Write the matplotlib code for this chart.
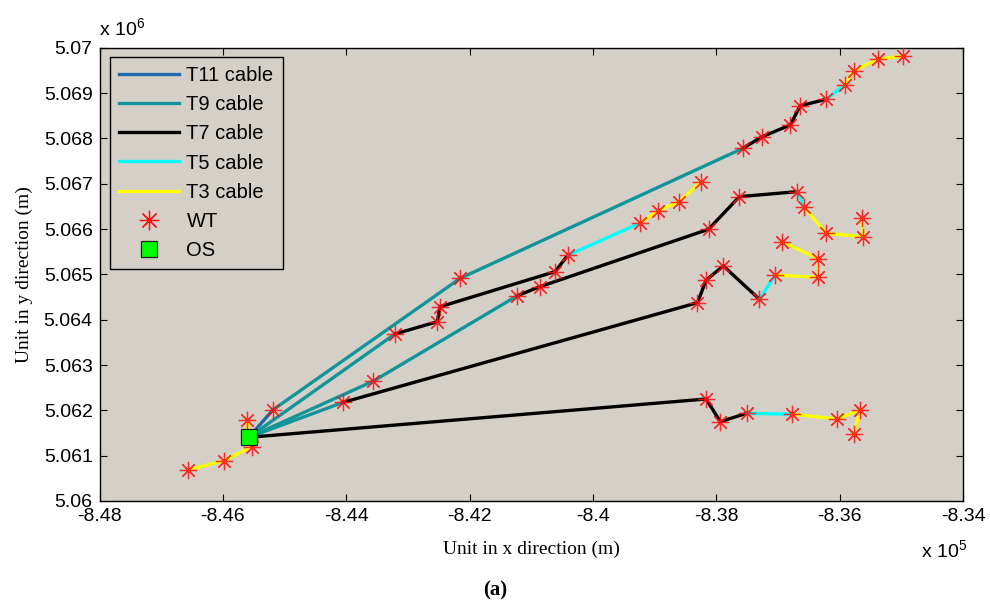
import matplotlib
matplotlib.use('Agg')
import matplotlib.pyplot as plt
from matplotlib.lines import Line2D
from matplotlib.ticker import FuncFormatter, MultipleLocator

# offshore substation (m)
os_x = -845580
os_y = 5061405

# turbine strings, ordered outward from the substation
# cable type of each segment: first entry is substation -> first turbine
a_x = [-845190, -842150, -837570, -837260, -836800, -836640, -836220, -835920, -835775, -835385, -834975]
a_y = [5062010, 5064915, 5067780, 5068035, 5068295, 5068720, 5068860, 5069175, 5069495, 5069745, 5069815]
a_cable = ['T11', 'T9', 'T9', 'T7', 'T7', 'T7', 'T7', 'T5', 'T3', 'T3', 'T3']

b_x = [-843210, -842525, -842480, -840615, -840405, -839245, -838940, -838600, -838250]
b_y = [5063685, 5063955, 5064285, 5065060, 5065425, 5066125, 5066405, 5066605, 5067045]
b_cable = ['T9', 'T7', 'T7', 'T7', 'T7', 'T5', 'T3', 'T3', 'T3']

c_x = [-843560, -841225, -840855, -838125, -837625, -836685, -836575, -836220, -835620, -835640]
c_y = [5062645, 5064530, 5064730, 5065995, 5066715, 5066825, 5066480, 5065905, 5065830, 5066235]
c_cable = ['T9', 'T9', 'T7', 'T7', 'T7', 'T7', 'T5', 'T3', 'T3', 'T3']

d_x = [-844055, -838305, -838165, -837885, -837300, -837045, -836345, -836345, -836935]
d_y = [5062175, 5064375, 5064875, 5065185, 5064450, 5064985, 5064935, 5065345, 5065720]
d_cable = ['T9', 'T7', 'T7', 'T7', 'T7', 'T5', 'T3', 'T3', 'T3']

e_x = [-838165, -837935, -837505, -836765, -836045, -835665, -835775]
e_y = [5062250, 5061750, 5061935, 5061915, 5061810, 5062010, 5061470]
e_cable = ['T7', 'T7', 'T7', 'T5', 'T3', 'T3', 'T3']

f_x = [-845535, -845980, -846560]
f_y = [5061200, 5060890, 5060685]
f_cable = ['T3', 'T3', 'T3']

g_x = [-845615]
g_y = [5061785]
g_cable = ['T3']

strings = [(a_x, a_y, a_cable), (b_x, b_y, b_cable), (c_x, c_y, c_cable),
           (d_x, d_y, d_cable), (e_x, e_y, e_cable), (f_x, f_y, f_cable),
           (g_x, g_y, g_cable)]

cable_types = ['T11', 'T9', 'T7', 'T5', 'T3']
cable_colors = {'T11': '#1f6aa8', 'T9': '#12959a', 'T7': '#000000',
                'T5': '#00ffff', 'T3': '#ffff00'}

plt.rcParams['font.family'] = 'Liberation Sans'
plt.rcParams['mathtext.default'] = 'regular'

fig = plt.figure(figsize=(9.9, 6.01), dpi=100)
ax = fig.add_axes([0.1006, 0.1664, 0.8721, 0.7542])
ax.set_facecolor('#d4d0c8')

# cables, drawn as runs of the same type
for xs, ys, cables in strings:
    px = [os_x] + list(xs)
    py = [os_y] + list(ys)
    i = 0
    while i < len(cables):
        j = i
        while j + 1 < len(cables) and cables[j + 1] == cables[i]:
            j += 1
        ax.plot(px[i:j + 2], py[i:j + 2], color=cable_colors[cables[i]],
                lw=2.4, solid_joinstyle='miter', zorder=2)
        i = j + 1

# turbines
wt_x = [x for s in strings for x in s[0]]
wt_y = [y for s in strings for y in s[1]]
ax.plot(wt_x, wt_y, ls='none', marker=(8, 2, 0), ms=12.5, mew=0.9,
        color='#ff1010', alpha=0.85, zorder=3)

# substation
ax.plot([os_x], [os_y], ls='none', marker='s', ms=11, mfc='#00ff00',
        mec='#202020', mew=0.9, zorder=4)

ax.set_xlim(-848000, -834000)
ax.set_ylim(5060000, 5070000)
ax.xaxis.set_major_locator(MultipleLocator(2000))
ax.yaxis.set_major_locator(MultipleLocator(1000))
ax.xaxis.set_major_formatter(FuncFormatter(lambda v, p: '%g' % round(v / 1e5, 4)))
ax.yaxis.set_major_formatter(FuncFormatter(lambda v, p: '%g' % round(v / 1e6, 4)))
ax.tick_params(direction='in', top=True, right=True, length=5, width=0.8,
               labelsize=14, pad=5)
for sp in ax.spines.values():
    sp.set_linewidth(1.0)

ax.set_xlabel('Unit in x direction (m)', family='Liberation Serif', fontsize=14, labelpad=11)
ax.set_ylabel('Unit in y direction (m)', family='Liberation Serif', fontsize=14, labelpad=8)

fig.text(0.100, 0.9418, 'x 10$^{6}$', fontsize=14, ha='left', va='baseline')
fig.text(0.930, 0.073, 'x 10$^{5}$', fontsize=14, ha='left', va='baseline')
fig.text(0.5, 1 - 590 / 601, '(a)', family='Liberation Serif', weight='bold',
         fontsize=15, ha='center', va='center')

handles = [Line2D([], [], color=cable_colors[t], lw=2.4) for t in cable_types]
handles.append(Line2D([], [], ls='none', marker=(8, 2, 0), ms=14, mew=0.9, color='#ff1010'))
handles.append(Line2D([], [], ls='none', marker='s', ms=11, mfc='#00ff00', mec='#202020', mew=0.9))
labels = [t + ' cable' for t in cable_types] + ['WT', 'OS']
leg = ax.legend(handles, labels, loc='upper left', bbox_to_anchor=(0.012, 0.979),
                borderaxespad=0, fontsize=14.5, handlelength=3.0, handletextpad=0.35,
                labelspacing=0.5, borderpad=0.45, fancybox=False, framealpha=1,
                facecolor='#d4d0c8', edgecolor='black')
leg.get_frame().set_linewidth(1.0)

fig.savefig('out.png', dpi=100)
